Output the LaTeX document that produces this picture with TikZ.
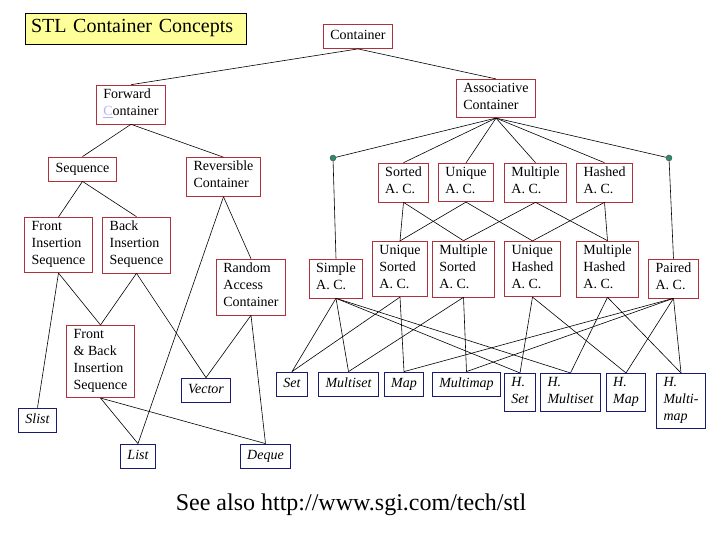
\documentclass[tikz,border=0pt]{standalone}
\usepackage{fontspec}
\setmainfont{Liberation Serif}
\usetikzlibrary{shapes.geometric}

\definecolor{conceptred}{HTML}{B0303C}
\definecolor{modelblue}{HTML}{1A1A70}
\definecolor{titlefill}{HTML}{FFFF99}
\definecolor{dotgreen}{HTML}{2E8B6A}
\definecolor{linkblue}{HTML}{B4B4F0}

\begin{document}
\begin{tikzpicture}[
    x=1pt, y=-1pt,
    concept/.style={rectangle, draw=conceptred, line width=0.8pt, fill=white, align=left, inner xsep=7pt, inner ysep=3.5pt, font=\fontsize{14}{17}\selectfont, execute at begin node=\strut, execute at end node=\strut},
    model/.style={concept, draw=modelblue, font=\fontsize{14}{17}\selectfont\itshape},
    junction/.style={circle, draw=black!70, fill=dotgreen, inner sep=0pt, minimum size=6pt},
    link/.style={line width=0.6pt}
]
\useasboundingbox (0,0) rectangle (720,540);

\node[rectangle, draw, line width=0.8pt, fill=titlefill, text width=209pt, inner xsep=6pt, minimum height=31pt, align=left, font=\fontsize{20}{24}\selectfont] (title) at (135.5,28.5) {STL Container Concepts};

\node[concept] (container) at (358,36.5) {Container};
\node[concept] (fwd) at (131,104.5) {Forward\\\textcolor{linkblue}{\underline{C}}ontainer};
\node[concept] (assoc) at (496,98.5) {Associative\\Container};

\node[concept] (seq) at (82.5,169) {Sequence};
\node[concept] (rev) at (223.5,177) {Reversible\\Container};
\node[concept] (fis) at (58.5,245) {Front\\Insertion\\Sequence};
\node[concept] (bis) at (136.5,245) {Back\\Insertion\\Sequence};
\node[concept] (rac) at (251,287) {Random\\Access\\Container};
\node[concept] (fbis) at (100.5,361.5) {Front\\\& Back\\Insertion\\Sequence};

\node[model] (vector) at (206,390) {Vector};
\node[model] (slist) at (37.5,420) {Slist};
\node[model] (list) at (138,456) {List};
\node[model] (deque) at (265.5,456) {Deque};

\node[junction] (ldot) at (333,158) {};
\node[junction] (rdot) at (669,158) {};
\node[concept] (sac) at (403.5,182.5) {Sorted\\A. C.};
\node[concept] (uac) at (466,182.5) {Unique\\A. C.};
\node[concept] (mac) at (535.5,182.5) {Multiple\\A. C.};
\node[concept] (hac) at (604.5,182.5) {Hashed\\A. C.};

\node[concept] (simple) at (336,278.5) {Simple\\A. C.};
\node[concept] (usac) at (400,269) {Unique\\Sorted\\A. C.};
\node[concept] (msac) at (463.5,269) {Multiple\\Sorted\\A. C.};
\node[concept] (uhac) at (532.5,269) {Unique\\Hashed\\A. C.};
\node[concept] (mhac) at (607.5,269) {Multiple\\Hashed\\A. C.};
\node[concept] (pac) at (673.5,278.5) {Paired\\A. C.};

\node[model] (set) at (292,384) {Set};
\node[model] (multiset) at (348.5,384) {Multiset};
\node[model] (map) at (404,384) {Map};
\node[model] (multimap) at (466.5,384) {Multimap};
\node[model] (hset) at (520,392.5) {H.\\Set};
\node[model] (hmultiset) at (570.5,392.5) {H.\\Multiset};
\node[model] (hmap) at (626,392.5) {H.\\Map};
\node[model] (hmultimap) at (681,401) {H.\\Multi-\\map};

\node[font=\fontsize{24}{28}\selectfont] (seealso) at (351,505) {See also http://www.sgi.com/tech/stl};

\draw[link] (container.south) -- (fwd.north);
\draw[link] (container.south) -- (assoc.north);
\draw[link] (fwd.south) -- (seq.north);
\draw[link] (fwd.south) -- (rev.north);
\draw[link] (seq.south) -- (fis.north);
\draw[link] (seq.south) -- (bis.north);
\draw[link] (fis.south) -- (slist.north);
\draw[link] (fis.south) -- (fbis.north);
\draw[link] (bis.south) -- (fbis.north);
\draw[link] (bis.south) -- (vector.north);
\draw[link] (rev.south) -- (rac.north);
\draw[link] (rev.south) -- (list.north);
\draw[link] (rac.south) -- (vector.north);
\draw[link] (rac.south) -- (deque.north);
\draw[link] (fbis.south) -- (list.north);
\draw[link] (fbis.south) -- (deque.north);

\draw[link] (assoc.south) -- (ldot);
\draw[link] (assoc.south) -- (sac.north);
\draw[link] (assoc.south) -- (uac.north);
\draw[link] (assoc.south) -- (mac.north);
\draw[link] (assoc.south) -- (hac.north);
\draw[link] (assoc.south) -- (rdot);
\draw[link] (ldot) -- (simple.north);
\draw[link] (rdot) -- (pac.north);

\draw[link] (sac.south) -- (usac.north);
\draw[link] (sac.south) -- (msac.north);
\draw[link] (uac.south) -- (usac.north);
\draw[link] (uac.south) -- (uhac.north);
\draw[link] (mac.south) -- (msac.north);
\draw[link] (mac.south) -- (mhac.north);
\draw[link] (hac.south) -- (uhac.north);
\draw[link] (hac.south) -- (mhac.north);

\draw[link] (simple.south) -- (set.north);
\draw[link] (simple.south) -- (multiset.north);
\draw[link] (simple.south) -- (hset.north);
\draw[link] (simple.south) -- (hmultiset.north);
\draw[link] (usac.south) -- (set.north);
\draw[link] (usac.south) -- (map.north);
\draw[link] (msac.south) -- (multiset.north);
\draw[link] (msac.south) -- (multimap.north);
\draw[link] (uhac.south) -- (hset.north);
\draw[link] (uhac.south) -- (hmap.north);
\draw[link] (mhac.south) -- (hmultiset.north);
\draw[link] (mhac.south) -- (hmultimap.north);
\draw[link] (pac.south) -- (map.north);
\draw[link] (pac.south) -- (multimap.north);
\draw[link] (pac.south) -- (hmap.north);
\draw[link] (pac.south) -- (hmultimap.north);
\end{tikzpicture}
\end{document}
